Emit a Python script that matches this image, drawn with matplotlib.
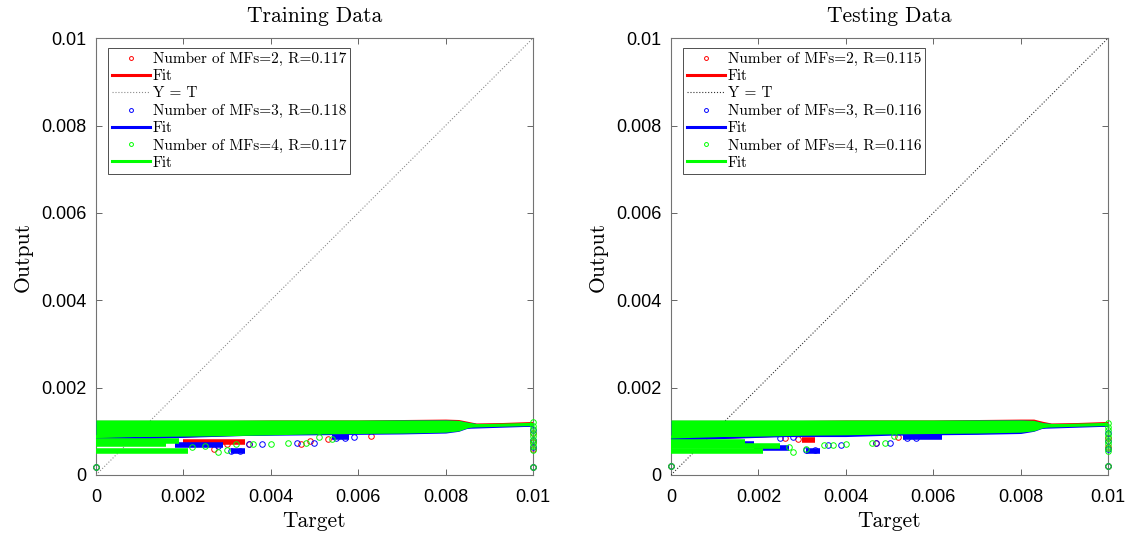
import numpy as np
import matplotlib.pyplot as plt

plt.rcParams["font.family"] = ["Liberation Sans", "DejaVu Sans"]

# Eixos (iguais nos dois paineis)
AXIS_RANGE = [0, 0.01]
TICKS = [0, 0.002, 0.004, 0.006, 0.008, 0.01]
TICK_LABELS = ["0", "0.002", "0.004", "0.006", "0.008", "0.01"]

N_MFS = [2, 3, 4]
TRAIN_R = [0.117, 0.118, 0.117]
TEST_R = [0.115, 0.116, 0.116]

# Faixa densa de pontos (envelope), ordem: MF=2, MF=3, MF=4
BAND_T = [0, 0.001, 0.002, 0.003, 0.004, 0.005, 0.006, 0.007, 0.008, 0.0083, 0.0085, 0.0087, 0.01]

TRAIN_BAND_HI = [
    [0.00125, 0.00125, 0.00125, 0.00125, 0.00126, 0.00126, 0.00126, 0.00127, 0.00128, 0.00127, 0.00123, 0.00119, 0.00119],
    [0.00125, 0.00125, 0.00125, 0.00125, 0.00125, 0.00125, 0.00125, 0.00126, 0.00126, 0.00125, 0.00121, 0.00118, 0.00118],
    [0.00126, 0.00126, 0.00126, 0.00126, 0.00126, 0.00126, 0.00126, 0.00126, 0.00126, 0.00125, 0.00121, 0.00118, 0.00118],
]
TRAIN_BAND_LO = [
    [0.00089, 0.00089, 0.00090, 0.00092, 0.00094, 0.00095, 0.00096, 0.00097, 0.00099, 0.00102, 0.00109, 0.00113, 0.00113],
    [0.00087, 0.00087, 0.00088, 0.00090, 0.00091, 0.00092, 0.00093, 0.00094, 0.00096, 0.00100, 0.00107, 0.00112, 0.00112],
    [0.00088, 0.00088, 0.00089, 0.00090, 0.00092, 0.00094, 0.00095, 0.00096, 0.00098, 0.00101, 0.00108, 0.00113, 0.00113],
]
TEST_BAND_HI = [
    [0.00125, 0.00125, 0.00125, 0.00125, 0.00126, 0.00126, 0.00126, 0.00127, 0.00128, 0.00128, 0.00123, 0.00119, 0.00119],
    [0.00125, 0.00125, 0.00125, 0.00125, 0.00125, 0.00125, 0.00125, 0.00126, 0.00126, 0.00125, 0.00120, 0.00118, 0.00118],
    [0.00126, 0.00126, 0.00126, 0.00126, 0.00126, 0.00126, 0.00126, 0.00126, 0.00126, 0.00125, 0.00120, 0.00118, 0.00118],
]
TEST_BAND_LO = [
    [0.00089, 0.00089, 0.00090, 0.00091, 0.00093, 0.00095, 0.00096, 0.00097, 0.00099, 0.00102, 0.00109, 0.00113, 0.00113],
    [0.00087, 0.00087, 0.00088, 0.00088, 0.00088, 0.00091, 0.00092, 0.00093, 0.00095, 0.00100, 0.00107, 0.00112, 0.00112],
    [0.00088, 0.00088, 0.00089, 0.00091, 0.00092, 0.00094, 0.00095, 0.00096, 0.00098, 0.00101, 0.00108, 0.00113, 0.00113],
]

# Fileiras de pontos abaixo da faixa: nivel de saida, alvo inicial, alvo final
TRAIN_ROW_Y = [[0.00075], [0.00068, 0.00054, 0.00086], [0.00077, 0.00070, 0.00055]]
TRAIN_ROW_T0 = [[0.0020], [0.0018, 0.0031, 0.0054], [0.0, 0.0, 0.0]]
TRAIN_ROW_T1 = [[0.0034], [0.0029, 0.0034, 0.0058], [0.0019, 0.0016, 0.0021]]

TEST_ROW_Y = [[0.00080], [0.00071, 0.00062, 0.00055, 0.00086], [0.00076, 0.00067, 0.00056]]
TEST_ROW_T0 = [[0.0030], [0.0, 0.0019, 0.0031, 0.0053], [0.0, 0.0, 0.0]]
TEST_ROW_T1 = [[0.0033], [0.0019, 0.0027, 0.0034, 0.0062], [0.0017, 0.0025, 0.0021]]

# Pontos isolados (alvo, saida), incluindo a coluna em Target = 0.01
TRAIN_PT_T = [
    [0.0, 0.0027, 0.0030, 0.0035, 0.0047, 0.0049, 0.0053, 0.0063, 0.01, 0.01, 0.01, 0.01],
    [0.0, 0.0028, 0.0031, 0.0033, 0.0035, 0.0038, 0.0046, 0.0050, 0.0055, 0.0057, 0.0059, 0.01, 0.01, 0.01, 0.01],
    [0.0, 0.0022, 0.0025, 0.0028, 0.0030, 0.0032, 0.0036, 0.0040, 0.0044, 0.0048, 0.0051, 0.0054,
     0.01, 0.01, 0.01, 0.01, 0.01, 0.01, 0.01, 0.01, 0.01, 0.01],
]
TRAIN_PT_Y = [
    [0.00019, 0.00060, 0.00071, 0.00072, 0.00072, 0.00078, 0.00082, 0.00090, 0.00019, 0.00060, 0.00075, 0.00095],
    [0.00019, 0.00066, 0.00056, 0.00054, 0.00071, 0.00071, 0.00073, 0.00073, 0.00084, 0.00085, 0.00088, 0.00019, 0.00065, 0.00080, 0.00102],
    [0.00019, 0.00063, 0.00066, 0.00052, 0.00058, 0.00071, 0.00071, 0.00072, 0.00073, 0.00074, 0.00087, 0.00082,
     0.00019, 0.00057, 0.00066, 0.00073, 0.00081, 0.00089, 0.00097, 0.00105, 0.00113, 0.00121],
]
TEST_PT_T = [
    [0.0, 0.0026, 0.0029, 0.0047, 0.0052, 0.01, 0.01, 0.01],
    [0.0, 0.0025, 0.0028, 0.0031, 0.0033, 0.0036, 0.0039, 0.0047, 0.0050, 0.0054, 0.0056, 0.01, 0.01, 0.01, 0.01],
    [0.0, 0.0027, 0.0028, 0.0031, 0.0035, 0.0037, 0.0040, 0.0046, 0.0049, 0.0051,
     0.01, 0.01, 0.01, 0.01, 0.01, 0.01, 0.01, 0.01, 0.01, 0.01],
]
TEST_PT_Y = [
    [0.00020, 0.00085, 0.00083, 0.00073, 0.00088, 0.00020, 0.00063, 0.00085],
    [0.00020, 0.00084, 0.00086, 0.00057, 0.00057, 0.00069, 0.00069, 0.00073, 0.00073, 0.00085, 0.00085, 0.00020, 0.00060, 0.00078, 0.00097],
    [0.00020, 0.00063, 0.00053, 0.00059, 0.00069, 0.00069, 0.00070, 0.00073, 0.00073, 0.00089,
     0.00020, 0.00055, 0.00062, 0.00070, 0.00078, 0.00086, 0.00094, 0.00102, 0.00110, 0.00120],
]

# Retas de ajuste (inclinacao, intercepto)
TRAIN_FIT_SLOPE = [0.036, 0.032, 0.028]
TRAIN_FIT_INTERCEPT = [0.00082, 0.00082, 0.00088]
TEST_FIT_SLOPE = [0.036, 0.032, 0.029]
TEST_FIT_INTERCEPT = [0.00082, 0.00082, 0.00087]

COLORS = ["#ff0000", "#0000ff", "#00ff00"]
SERIF = ["cmr10", "DejaVu Serif"]


def draw_panel(ax, title, r_vals, band_hi, band_lo, row_y, row_t0, row_t1,
               pt_t, pt_y, slopes, intercepts, yt_color):
    handles = []
    z = 2
    target = np.array(AXIS_RANGE)
    for k in range(3):
        c = COLORS[k]
        # faixa densa de pontos
        ax.fill_between(BAND_T, band_lo[k], band_hi[k], color=c, lw=0, zorder=z)
        ax.hlines(row_y[k], row_t0[k], row_t1[k], color=c, lw=4, zorder=z)
        (pts,) = ax.plot(pt_t[k], pt_y[k], "o", ls="none", mfc="none", mec=c,
                         ms=4, mew=0.7, zorder=z, clip_on=False)
        (fit,) = ax.plot(target, slopes[k] * target + intercepts[k], color=c,
                         lw=2.2, zorder=z + 1)
        handles += [pts, fit]
        pts.set_label(f"Number of MFs={N_MFS[k]}, R={r_vals[k]:.3f}")
        fit.set_label("Fit")
        if k == 0:
            (yt,) = ax.plot(AXIS_RANGE, AXIS_RANGE, ls=":", color=yt_color,
                            lw=0.8, zorder=z + 2, label="Y = T")
            handles.append(yt)
        z += 3

    ax.set_xlim(AXIS_RANGE)
    ax.set_ylim(AXIS_RANGE)
    ax.set_xticks(TICKS)
    ax.set_yticks(TICKS)
    ax.set_xticklabels(TICK_LABELS, fontsize=13)
    ax.set_yticklabels(TICK_LABELS, fontsize=13)
    ax.tick_params(direction="in", length=4, width=0.6, color="0.3",
                   top=True, right=True, pad=7)
    ax.tick_params(axis="x", pad=10)
    for s in ax.spines.values():
        s.set_color("0.45")
        s.set_linewidth(0.8)

    ax.set_title(title, fontsize=15.5, family=SERIF, pad=12)
    ax.set_xlabel("Target", fontsize=15.5, family=SERIF, labelpad=4)
    ax.set_ylabel("Output", fontsize=15.5, family=SERIF, labelpad=6)

    leg = ax.legend(handles=handles, loc="upper left",
                    bbox_to_anchor=(0.027, 0.977), borderaxespad=0,
                    prop={"family": SERIF, "size": 11}, labelspacing=0.22,
                    handlelength=2.5, handletextpad=0.2, borderpad=0.25,
                    markerscale=0.7, fancybox=False, framealpha=1,
                    edgecolor="0.2")
    leg.get_frame().set_linewidth(0.6)
    leg.set_zorder(30)


fig = plt.figure(figsize=(11.41, 5.34), dpi=100)
ax1 = fig.add_axes([0.0841, 0.1105, 0.383, 0.818])
ax2 = fig.add_axes([0.5881, 0.1105, 0.383, 0.818])

draw_panel(ax1, "Training Data", TRAIN_R, TRAIN_BAND_HI, TRAIN_BAND_LO,
           TRAIN_ROW_Y, TRAIN_ROW_T0, TRAIN_ROW_T1, TRAIN_PT_T, TRAIN_PT_Y,
           TRAIN_FIT_SLOPE, TRAIN_FIT_INTERCEPT, "0.55")
draw_panel(ax2, "Testing Data", TEST_R, TEST_BAND_HI, TEST_BAND_LO,
           TEST_ROW_Y, TEST_ROW_T0, TEST_ROW_T1, TEST_PT_T, TEST_PT_Y,
           TEST_FIT_SLOPE, TEST_FIT_INTERCEPT, "0.2")

fig.savefig("out.png", dpi=100)
